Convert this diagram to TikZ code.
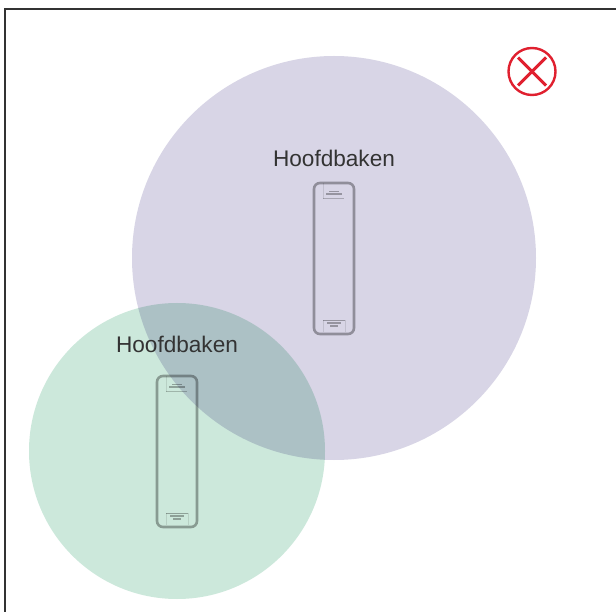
\documentclass[tikz,border=0pt]{standalone}
\usepackage{fontspec}
\setmainfont{Liberation Sans}
\usepackage{tikz}
\usetikzlibrary{positioning,calc}
\definecolor{zonegreen}{RGB}{204,232,219}
\definecolor{zonepurple}{RGB}{216,213,230}
\definecolor{crossred}{RGB}{224,32,47}

\begin{document}
\begin{tikzpicture}[x=1pt, y=-1pt, font=\fontsize{22.6pt}{26pt}\selectfont, node distance=6pt]
\tikzstyle{zone}=[circle, inner sep=0pt, outer sep=0pt]
\tikzstyle{bakenbody}=[rectangle, rounded corners=6pt, draw=black!33, line width=2.6pt, minimum width=40pt, minimum height=151pt, inner sep=0pt]
\tikzstyle{bakenlabel}=[text=black!80, inner sep=0pt]
\tikzstyle{lamp}=[black!30, line width=1.5pt]
\tikzstyle{lampfaint}=[black!10, line width=0.8pt]
\tikzstyle{crossline}=[crossred, line width=3pt]
\useasboundingbox (0,0) rectangle (616,612);
\fill[white] (0,0) rectangle (616,612);
\draw[black!80, line width=1.3pt] (5,612) -- (5,9) -- (616,9);
\begin{scope}[blend mode=multiply]
\node[zone, fill=zonegreen, minimum size=296pt] (zoneB) at (177,451) {};
\node[zone, fill=zonepurple, minimum size=404pt] (zoneA) at (334,258) {};
\node[bakenbody] (bakenA) at (334,258.5) {};
\node[bakenbody] (bakenB) at (177,451.5) {};
% lamp at both ends of each baken
\foreach \b in {bakenA,bakenB} {
  \draw[lamp] ($(\b.north)+(-5,10)$) -- ($(\b.north)+(5,10)$);
  \draw[lamp] ($(\b.north)+(-8,12.5)$) -- ($(\b.north)+(8,12.5)$);
  \draw[lampfaint, black!22] ($(\b.north)+(-11,17)$) -- ($(\b.north)+(10,17)$);
  \draw[lampfaint] ($(\b.north)+(-11,1)$) -- ($(\b.north)+(-11,17)$);
  \draw[lamp] ($(\b.south)+(-11,-15)$) -- ($(\b.south)+(11,-15)$);
  \draw[lamp, line width=2pt] ($(\b.south)+(-7,-12)$) -- ($(\b.south)+(7,-12)$);
  \draw[lamp, line width=2pt] ($(\b.south)+(-4,-9)$) -- ($(\b.south)+(4,-9)$);
  \draw[lampfaint] ($(\b.south)+(-11,-15)$) -- ($(\b.south)+(-11,-3)$);
  \draw[lampfaint] ($(\b.south)+(11,-15)$) -- ($(\b.south)+(11,-3)$);
}
\end{scope}
\node[bakenlabel, above=15pt of bakenA] (labelA) {Hoofdbaken};
\node[bakenlabel, above=22pt of bakenB] (labelB) {Hoofdbaken};
\node[circle, draw=crossred, line width=2.4pt, minimum size=47pt, inner sep=0pt] (afgekeurd) at (532,71.5) {};
\draw[crossline] ($(afgekeurd)+(-14,-14)$) -- ($(afgekeurd)+(14,14)$);
\draw[crossline] ($(afgekeurd)+(14,-14)$) -- ($(afgekeurd)+(-14,14)$);
\end{tikzpicture}
\end{document}
